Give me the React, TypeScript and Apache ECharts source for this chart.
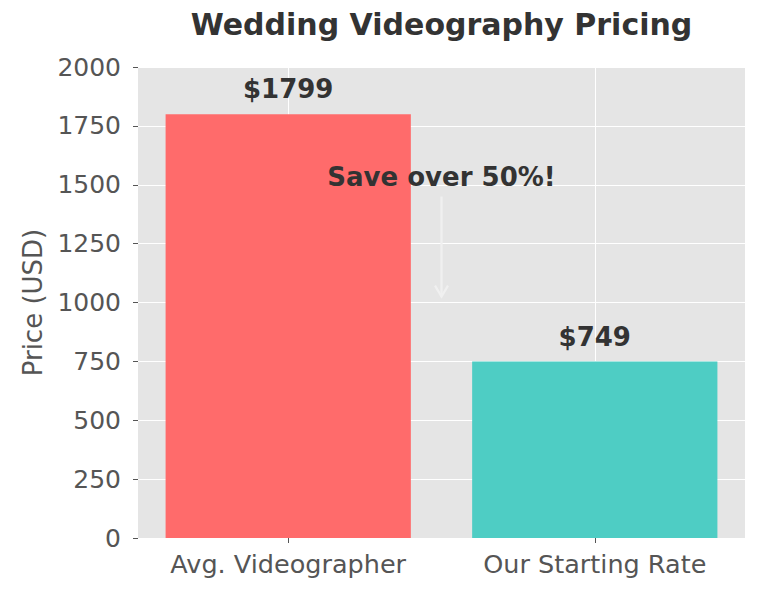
import React, { useEffect, useRef } from "react";
import * as echarts from "echarts";

const categories = ["Avg. Videographer", "Our Starting Rate"];
const categoryPositions = [0, 1];
const prices = [1799, 749];
const barColors = ["#FF6B6B", "#4ECDC4"];
const priceLabels = ["$1799", "$749"];
const yMin = 0;
const yMax = 2000;
const yInterval = 250;
const xMin = -0.49;
const xMax = 1.49;
const titleText = "Wedding Videography Pricing";
const yAxisName = "Price (USD)";
const annotationX = 0.5;
const annotationTextY = 1535;
const arrowStartY = 1450;
const arrowEndY = 1025;
const annotationText = "Save over 50%!";

const FONT = "DejaVu Sans";

export default function App() {
  const ref = useRef<HTMLDivElement>(null);
  useEffect(() => {
    document.body.style.margin = "0";
    const chart = echarts.init(ref.current!, null, { renderer: "svg" });
    const gridLeft = 138;
    const gridRight = 23;
    const option: any = {
      animation: false,
      backgroundColor: "#ffffff",
      graphic: [
        {
          type: "text",
          x: (gridLeft + (768 - gridRight)) / 2,
          y: 24,
          style: {
            text: titleText,
            fontFamily: FONT,
            fontSize: 30,
            fontWeight: "bold",
            fill: "#333333",
            align: "center",
            verticalAlign: "middle",
          },
        },
      ],
      grid: {
        left: gridLeft,
        right: gridRight,
        top: 67,
        bottom: 53,
        show: true,
        backgroundColor: "#E5E5E5",
        borderWidth: 0,
      },
      xAxis: {
        type: "value",
        position: "bottom",
        min: xMin,
        max: xMax,
        axisLine: { show: false, onZero: false },
        axisTick: {
          show: true,
          customValues: categoryPositions,
          length: 5,
          lineStyle: { color: "#555555", width: 1 },
        },
        axisLabel: {
          customValues: categoryPositions,
          formatter: (v: number) => categories[Math.round(v)] ?? "",
          color: "#555555",
          fontFamily: FONT,
          fontSize: 25.5,
          margin: 13,
        },
        splitLine: { show: true, lineStyle: { color: "#ffffff", width: 1 } },
      },
      yAxis: {
        type: "value",
        position: "left",
        min: yMin,
        max: yMax,
        interval: yInterval,
        name: yAxisName,
        nameLocation: "middle",
        nameGap: 89,
        nameTextStyle: { color: "#555555", fontFamily: FONT, fontSize: 26 },
        axisLine: { show: false, onZero: false },
        axisTick: {
          show: true,
          length: 5,
          lineStyle: { color: "#555555", width: 1 },
        },
        axisLabel: {
          color: "#555555",
          fontFamily: FONT,
          fontSize: 25,
          margin: 17,
          formatter: (v: number) => String(v),
        },
        splitLine: { show: true, lineStyle: { color: "#ffffff", width: 1 } },
      },
      series: [
        {
          type: "bar",
          z: 2,
          barWidth: "80%",
          data: prices.map((v, i) => ({
            value: [categoryPositions[i], v],
            itemStyle: { color: barColors[i] },
          })),
          label: {
            show: true,
            position: "top",
            distance: 12,
            formatter: (p: any) => priceLabels[p.dataIndex],
            color: "#333333",
            fontFamily: FONT,
            fontWeight: "bold",
            fontSize: 26,
          },
        },
        {
          type: "custom",
          z: 5,
          silent: true,
          data: [[annotationX, arrowStartY]],
          renderItem: (params: any, api: any) => {
            const s = api.coord([annotationX, arrowStartY]);
            const e = api.coord([annotationX, arrowEndY]);
            const t = api.coord([annotationX, annotationTextY]);
            const x = s[0];
            return {
              type: "group",
              children: [
                {
                  type: "line",
                  shape: { x1: x, y1: s[1], x2: x, y2: e[1] },
                  style: { stroke: "#F0F0F0", lineWidth: 2.2 },
                },
                {
                  type: "polyline",
                  shape: {
                    points: [
                      [x - 6.5, e[1] - 11],
                      [x, e[1]],
                      [x + 6.5, e[1] - 11],
                    ],
                  },
                  style: { stroke: "#F0F0F0", lineWidth: 2.2, fill: null },
                },
                {
                  type: "text",
                  x: t[0],
                  y: t[1],
                  style: {
                    text: annotationText,
                    fontFamily: FONT,
                    fontWeight: "bold",
                    fontSize: 26,
                    fill: "#333333",
                    align: "center",
                    verticalAlign: "middle",
                  },
                },
              ],
            };
          },
        },
      ],
    };
    chart.setOption(option);
    return () => chart.dispose();
  }, []);
  return <div ref={ref} style={{ width: 768, height: 591 }} />;
}
